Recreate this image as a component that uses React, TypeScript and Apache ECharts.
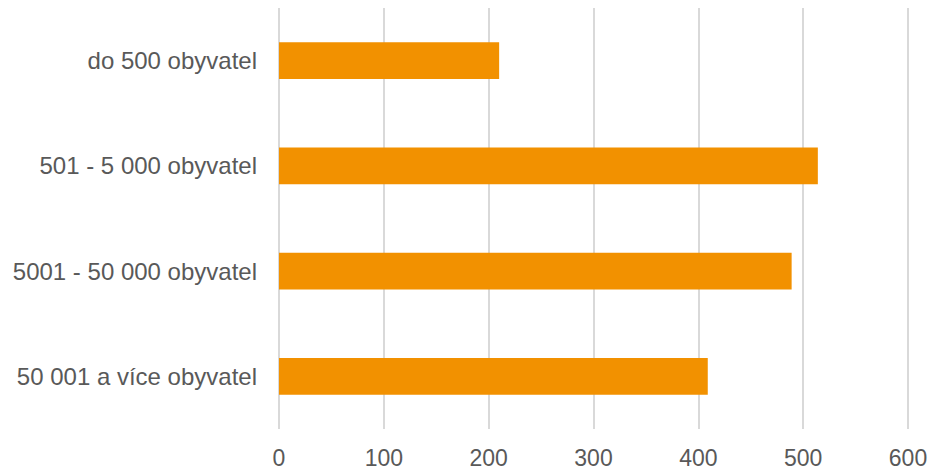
import React, { useEffect, useRef } from "react";
import * as echarts from "echarts";

const categories = [
  "do 500 obyvatel",
  "501 - 5 000 obyvatel",
  "5001 - 50 000 obyvatel",
  "50 001 a více obyvatel",
];
const values = [210, 514, 489, 409];
const xTicks = { min: 0, max: 600, interval: 100 };

export default function App() {
  const ref = useRef<HTMLDivElement>(null);
  useEffect(() => {
    if (!ref.current) return;
    const chart = echarts.init(ref.current, undefined, { renderer: "svg" });
    chart.setOption({
      animation: false,
      backgroundColor: "#ffffff",
      grid: { left: 279, right: 23, top: 8, bottom: 40, containLabel: false },
      xAxis: {
        type: "value",
        min: xTicks.min,
        max: xTicks.max,
        interval: xTicks.interval,
        axisLine: { show: false },
        axisTick: { show: false },
        splitLine: { show: true, lineStyle: { color: "#d9d9d9", width: 2 } },
        axisLabel: {
          color: "#595959",
          fontSize: 23,
          fontFamily: "'Liberation Sans', Arial, sans-serif",
          margin: 17,
        },
      },
      yAxis: {
        type: "category",
        data: categories,
        inverse: true,
        axisLine: { show: false },
        axisTick: { show: false },
        splitLine: { show: false },
        axisLabel: {
          color: "#595959",
          fontSize: 24,
          fontFamily: "'Liberation Sans', Arial, sans-serif",
          margin: 22,
        },
      },
      series: [
        {
          type: "bar",
          data: values,
          barCategoryGap: "65%",
          itemStyle: { color: "#f29100" },
        },
      ],
    });
    return () => chart.dispose();
  }, []);
  return <div ref={ref} style={{ width: 931, height: 469, position: "absolute", left: 0, top: 0 }} />;
}
